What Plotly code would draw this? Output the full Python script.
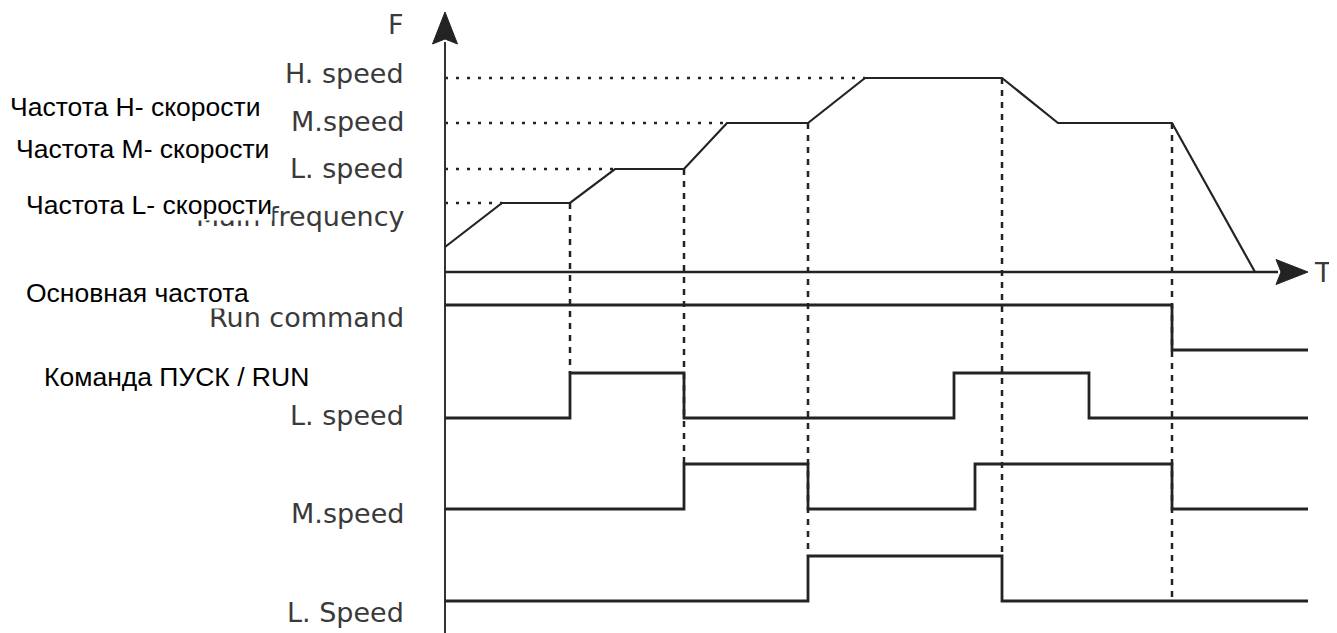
import plotly.graph_objects as go

# time instants in schematic units, origin on the F axis
t_end = 863
freq_t = [0, 57, 125, 170, 239, 282, 363, 420, 557, 613, 727, 810]
freq_f = [25, 69, 69, 103, 103, 149, 149, 194, 194, 149, 149, 0]

# frequency reference levels
level_names = ['H. speed', 'M.speed', 'L. speed', 'Main frequency']
level_vals = [194, 149, 103, 69]

# digital signals: low level, initial state, toggle instants
sig_names = ['Run command', 'L. speed', 'M.speed', 'L. Speed']
sig_low = [-78, -146, -237, -329]
sig_init = [1, 0, 0, 0]
sig_edges = [[727], [125, 239, 509, 644], [239, 363, 530, 727], [363, 557]]
sig_amp = 45

# dashed guides: instant, signal row where it stops, state there
guide_t = [125, 239, 363, 557, 727]
guide_row = [1, 2, 3, 3, 3]
guide_state = [1, 1, 1, 1, 0]

ru_labels = ['Частота H- скорости', 'Частота M- скорости', 'Частота L- скорости',
             'Основная частота', 'Команда ПУСК / RUN']

INK = '#232323'
f_top = 260   # tip of F arrow
y_bottom = -369

fig = go.Figure()

# dotted horizontal references up to the point where the curve reaches the level
for lv in level_vals:
    t_hit = freq_t[freq_f.index(lv)]
    fig.add_trace(go.Scatter(x=[0, t_hit], y=[lv, lv], mode='lines',
                             line=dict(color=INK, width=2.5, dash='3px,8px')))

# dashed vertical guides
for t, row, st in zip(guide_t, guide_row, guide_state):
    top = freq_f[freq_t.index(t)]
    bot = sig_low[row] + st * sig_amp
    fig.add_trace(go.Scatter(x=[t, t], y=[top, bot], mode='lines',
                             line=dict(color=INK, width=2.5, dash='6px,6px')))

# axes
fig.add_trace(go.Scatter(x=[0, 0], y=[y_bottom, f_top - 30], mode='lines',
                         line=dict(color='#333333', width=2)))
fig.add_trace(go.Scatter(x=[0, t_end - 30], y=[0, 0], mode='lines',
                         line=dict(color=INK, width=2.5)))

# arrow heads (notched triangles)
al, ah, an = 32, 12.5, 5
fig.add_trace(go.Scatter(x=[0, ah, 0, -ah, 0],
                         y=[f_top, f_top - al, f_top - al + an, f_top - al, f_top],
                         mode='lines', fill='toself', fillcolor=INK,
                         line=dict(color=INK, width=1)))
fig.add_trace(go.Scatter(x=[t_end, t_end - al, t_end - al + an, t_end - al, t_end],
                         y=[0, ah, 0, -ah, 0],
                         mode='lines', fill='toself', fillcolor=INK,
                         line=dict(color=INK, width=1)))

# frequency curve
fig.add_trace(go.Scatter(x=freq_t, y=freq_f, mode='lines',
                         line=dict(color=INK, width=2.2)))

# step signals
for low, init, edges in zip(sig_low, sig_init, sig_edges):
    xs, ys = [0], [low + init * sig_amp]
    state = init
    for e in edges:
        state = 1 - state
        xs += [e]
        ys += [low + state * sig_amp]
    xs.append(t_end)
    ys.append(low + state * sig_amp)
    fig.add_trace(go.Scatter(x=xs, y=ys, mode='lines', line_shape='hv',
                             line=dict(color=INK, width=2.8)))

en_font = dict(family='DejaVu Sans', size=27, color='#3a3a3a')
ru_font = dict(family='Liberation Sans', size=26.5, color='#000000')

annotations = []
annotations.append(dict(x=-39, y=f_top - 12, text='F', xanchor='right', yanchor='middle',
                        showarrow=False, font=en_font))
annotations.append(dict(x=t_end + 4, y=0, text='T', xanchor='left', yanchor='middle',
                        showarrow=False, font=en_font))
level_shift = [5, 2, 1, -13]
for name, lv, sh in zip(level_names, level_vals, level_shift):
    annotations.append(dict(x=-39, y=lv, yshift=sh, text=name, xanchor='right',
                            yanchor='middle', showarrow=False, font=en_font))
sig_shift = [33, 3, -4, -11]
for name, low, sh in zip(sig_names, sig_low, sig_shift):
    annotations.append(dict(x=-39, y=low, yshift=sh, text=name, xanchor='right',
                            yanchor='middle', showarrow=False, font=en_font))

# russian overlay labels (white boxes partly hide the english ones)
ru_x = [-436, -430, -420, -420, -402]
ru_y = [165, 123, 67, -21, -105]
for txt, x, y in zip(ru_labels, ru_x, ru_y):
    annotations.append(dict(x=x, y=y, text=txt, xanchor='left', yanchor='middle',
                            showarrow=False, font=ru_font, bgcolor='white', borderpad=0))

# ranges chosen so the page's 8px body margin lands the F axis where the reference has it
fig.update_layout(
    width=1337, height=633,
    margin=dict(l=0, r=0, t=0, b=0),
    paper_bgcolor='white', plot_bgcolor='white',
    showlegend=False,
    xaxis=dict(range=[-437, 900], visible=False, fixedrange=True),
    yaxis=dict(range=[y_bottom, 264], visible=False, fixedrange=True),
    annotations=annotations,
)

fig.write_html('out.html')
